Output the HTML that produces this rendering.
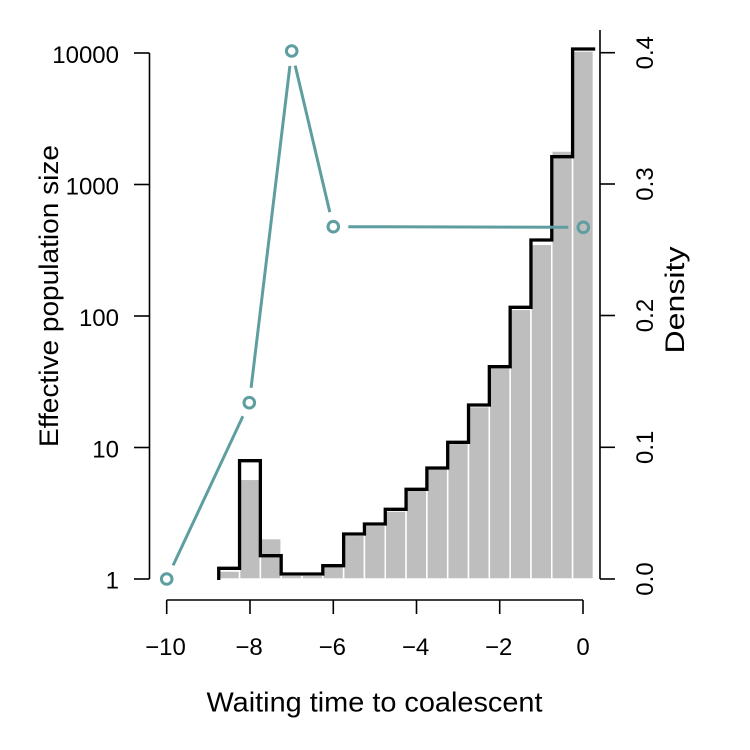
<!DOCTYPE html>
<html>
<head>
<meta charset="utf-8">
<style>
html,body{margin:0;padding:0;background:#fff;}
svg{display:block;}
text{font-family:"Liberation Sans",Arial,Helvetica,sans-serif;fill:#000;}
</style>
</head>
<body>
<svg width="750" height="750" viewBox="0 0 750 750" xmlns="http://www.w3.org/2000/svg">
<rect x="0" y="0" width="750" height="750" fill="#fff"/>

<!-- histogram bars -->
<g fill="#bebebe" stroke="#fff" stroke-width="1.5">
<rect x="218.74" y="571.0" width="20.81" height="8.0"/>
<rect x="239.55" y="479.3" width="20.82" height="99.7"/>
<rect x="260.37" y="538.6" width="20.81" height="40.4"/>
<rect x="281.18" y="575.3" width="20.82" height="3.7"/>
<rect x="302.00" y="575.3" width="20.81" height="3.7"/>
<rect x="322.81" y="566.0" width="20.82" height="13.0"/>
<rect x="343.63" y="535.3" width="20.81" height="43.7"/>
<rect x="364.44" y="525.3" width="20.82" height="53.7"/>
<rect x="385.26" y="511.0" width="20.81" height="68.0"/>
<rect x="406.07" y="490.3" width="20.82" height="88.7"/>
<rect x="426.89" y="468.6" width="20.81" height="110.4"/>
<rect x="447.70" y="443.3" width="20.82" height="135.7"/>
<rect x="468.52" y="406.6" width="20.81" height="172.4"/>
<rect x="489.33" y="367.6" width="20.82" height="211.4"/>
<rect x="510.15" y="309.3" width="20.81" height="269.7"/>
<rect x="530.96" y="244.3" width="20.82" height="334.7"/>
<rect x="551.78" y="151.0" width="20.81" height="428.0"/>
<rect x="572.59" y="51.0" width="20.82" height="528.0"/>
</g>

<!-- density step line -->
<path d="M218.74,580 V568.3 H239.55 V460.7 H260.37 V555.7 H281.18 V574 H322.81 V565.7 H343.63 V534 H364.44 V524 H385.26 V509.3 H406.07 V489.3 H426.89 V468 H447.70 V442.3 H468.52 V405 H489.33 V366.7 H510.15 V307.3 H530.96 V240 H551.78 V156.7 H572.59 V49 H595.2"
 fill="none" stroke="#000" stroke-width="3.3" stroke-linejoin="miter"/>

<!-- effective population size line -->
<g stroke="#5f9ea0" stroke-width="3" fill="none" stroke-linecap="butt">
<line x1="173.1" y1="565.4" x2="242.9" y2="416.3"/>
<line x1="251.1" y1="387.8" x2="289.9" y2="65.9"/>
<line x1="295.2" y1="65.6" x2="329.8" y2="212.1"/>
<line x1="348.3" y1="226.7" x2="568.3" y2="227.3"/>
<circle cx="166.7" cy="579" r="5.3"/>
<circle cx="249.3" cy="402.7" r="5.3"/>
<circle cx="291.7" cy="51" r="5.3"/>
<circle cx="333.3" cy="226.7" r="5.3"/>
<circle cx="583.3" cy="227.3" r="5.3"/>
</g>

<!-- axes -->
<g stroke="#000" stroke-width="1.6" fill="none">
<line x1="149.5" y1="53" x2="149.5" y2="579"/>
<line x1="134" y1="53" x2="149.5" y2="53"/>
<line x1="134" y1="184.5" x2="149.5" y2="184.5"/>
<line x1="134" y1="316" x2="149.5" y2="316"/>
<line x1="134" y1="447.5" x2="149.5" y2="447.5"/>
<line x1="134" y1="579" x2="149.5" y2="579"/>
<line x1="166.7" y1="600" x2="583" y2="600"/>
<line x1="166.7" y1="600" x2="166.7" y2="614"/>
<line x1="250" y1="600" x2="250" y2="614"/>
<line x1="333.3" y1="600" x2="333.3" y2="614"/>
<line x1="416.5" y1="600" x2="416.5" y2="614"/>
<line x1="499.7" y1="600" x2="499.7" y2="614"/>
<line x1="583" y1="600" x2="583" y2="614"/>
<line x1="600" y1="30" x2="600" y2="579"/>
<line x1="600" y1="52.7" x2="615" y2="52.7"/>
<line x1="600" y1="184" x2="615" y2="184"/>
<line x1="600" y1="315.5" x2="615" y2="315.5"/>
<line x1="600" y1="447.3" x2="615" y2="447.3"/>
<line x1="600" y1="579" x2="615" y2="579"/>
</g>

<!-- left tick labels -->
<g font-size="24" text-anchor="end">
<text x="119" y="63">10000</text>
<text x="119" y="194.3">1000</text>
<text x="119" y="325.8">100</text>
<text x="119" y="457.3">10</text>
<text x="119" y="588.5">1</text>
</g>

<!-- bottom tick labels -->
<g font-size="24" text-anchor="middle">
<text x="165.5" y="655">−10</text>
<text x="249" y="655">−8</text>
<text x="332.3" y="655">−6</text>
<text x="415.5" y="655">−4</text>
<text x="498.7" y="655">−2</text>
<text x="583" y="655">0</text>
</g>

<!-- right tick labels (rotated) -->
<g font-size="24" text-anchor="middle">
<text transform="translate(653,52.7) rotate(-90)">0.4</text>
<text transform="translate(653,184) rotate(-90)">0.3</text>
<text transform="translate(653,315.5) rotate(-90)">0.2</text>
<text transform="translate(653,447.3) rotate(-90)">0.1</text>
<text transform="translate(653,579) rotate(-90)">0.0</text>
</g>

<!-- axis titles -->
<text x="206.5" y="711.7" font-size="28" textLength="336" lengthAdjust="spacingAndGlyphs">Waiting time to coalescent</text>
<text transform="translate(58,447) rotate(-90)" font-size="27" textLength="302" lengthAdjust="spacingAndGlyphs">Effective population size</text>
<text transform="translate(684,353.5) rotate(-90)" font-size="27" textLength="107" lengthAdjust="spacingAndGlyphs">Density</text>
</svg>
</body>
</html>
